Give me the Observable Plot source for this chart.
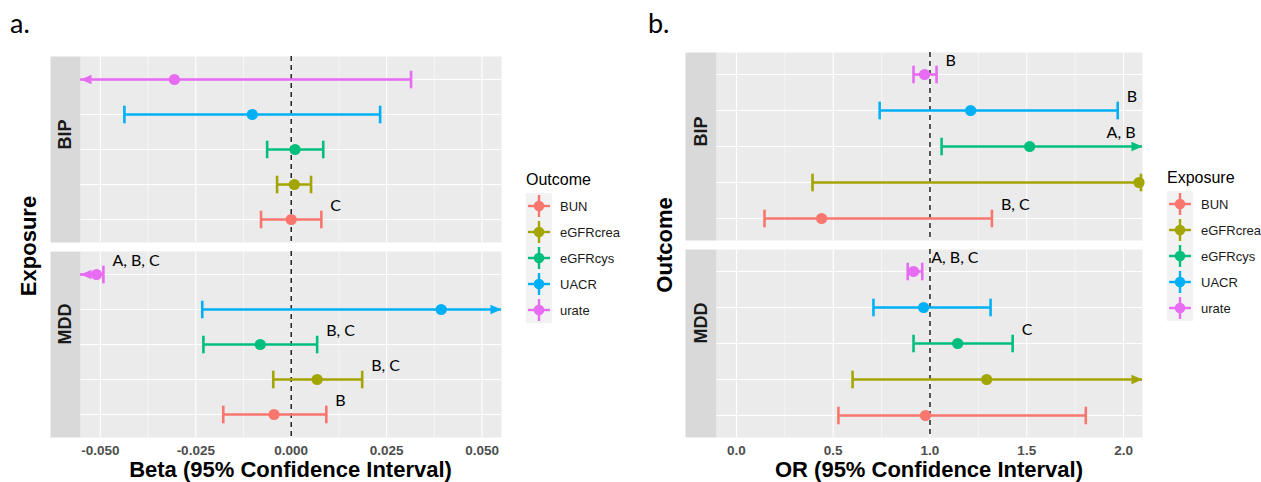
<!DOCTYPE html>
<html>
<head>
<meta charset="utf-8">
<script src="https://cdn.jsdelivr.net/npm/d3@7"></script>
<script src="https://cdn.jsdelivr.net/npm/@observablehq/plot@0.6"></script>
<style>
  body { margin: 0; background: #fff; }
  #root { position: relative; width: 1261px; height: 482px; overflow: hidden; background: #fff; }
  .pnl { position: absolute; top: 0; }
  #overlay { position: absolute; left: 0; top: 0; }
</style>
</head>
<body>
<div id="root"></div>
<script>
// ---------- shared categories ----------
const rowOrder = ["urate", "UACR", "eGFRcys", "eGFRcrea", "BUN"]; // top -> bottom in each facet
const legendOrder = ["BUN", "eGFRcrea", "eGFRcys", "UACR", "urate"];
const palette = ["#F8766D", "#A3A500", "#00BF7D", "#00B0F6", "#E76BF3"];
const facets = ["BIP", "MDD"];

// ---------- panel a: Beta by outcome ----------
const aFacet   = ["BIP", "BIP", "BIP", "BIP", "BIP", "MDD", "MDD", "MDD", "MDD", "MDD"];
const aOutcome = ["urate", "UACR", "eGFRcys", "eGFRcrea", "BUN", "urate", "UACR", "eGFRcys", "eGFRcrea", "BUN"];
const aBeta    = [-0.0306, -0.0102, 0.0010, 0.0008, 0.0000, -0.0510, 0.0393, -0.0081, 0.0068, -0.0045];
const aLower   = [-0.0926, -0.0437, -0.0063, -0.0037, -0.0079, -0.0580, -0.0233, -0.0230, -0.0047, -0.0178];
const aUpper   = [0.0314, 0.0233, 0.0084, 0.0052, 0.0079, -0.0492, 0.1019, 0.0068, 0.0186, 0.0092];
const aNote    = ["", "", "", "", "C", "A, B, C", "", "B, C", "B, C", "B"];
const aTicks   = [-0.05, -0.025, 0, 0.025, 0.05];
const aMinor   = [-0.0375, -0.0125, 0.0125, 0.0375];
const aDomain  = [-0.0552, 0.0551];

// ---------- panel b: OR by exposure ----------
const bFacet    = ["BIP", "BIP", "BIP", "BIP", "BIP", "MDD", "MDD", "MDD", "MDD", "MDD"];
const bExposure = ["urate", "UACR", "eGFRcys", "eGFRcrea", "BUN", "urate", "UACR", "eGFRcys", "eGFRcrea", "BUN"];
const bOR       = [0.972, 1.21, 1.515, 2.08, 0.44, 0.915, 0.967, 1.143, 1.293, 0.977];
const bLower    = [0.915, 0.74, 1.06, 0.393, 0.145, 0.885, 0.708, 0.915, 0.60, 0.527];
const bUpper    = [1.034, 1.97, 2.17, 2.09, 1.32, 0.96, 1.313, 1.427, 2.79, 1.805];
const bNote     = ["B", "B", "A, B", "", "B, C", "A, B, C", "", "C", "", ""];
const bTicks    = [0, 0.5, 1, 1.5, 2];
const bMinor    = [0.25, 0.75, 1.25, 1.75];
const bDomain   = [-0.103, 2.098];

// glyphs used for arrow heads and error-bar caps
const arrowLeft  = {draw(c) { c.moveTo(0, 0); c.lineTo(11, -4.8); c.lineTo(11, 4.8); c.closePath(); }};
const arrowRight = {draw(c) { c.moveTo(0, 0); c.lineTo(-11, -4.8); c.lineTo(-11, 4.8); c.closePath(); }};
const capGlyph   = {draw(c) { c.moveTo(0, -8.8); c.lineTo(0, 8.8); }};

function forest(cfg) {
  const {facet, cat, est, lo, hi, note, domain, ticks, minor, ref, digits,
         width, mLeft, mRight, mTop, mBottom, strip, pad} = cfg;
  const [d0, d1] = domain;
  const rows = est.map((e, i) => ({facet: facet[i], cat: cat[i], est: e, lo: lo[i], hi: hi[i], note: note[i]}));
  const innerW = width - mLeft - mRight;
  const lw = 2.6;
  const common = {fy: "facet", y: "cat"};
  const noteStyle = {fontFamily: "Lato, 'Open Sans', sans-serif", fontSize: 16, fill: "#000", dy: -14};
  return Plot.plot({
    width, height: 482,
    marginTop: mTop, marginBottom: mBottom, marginLeft: mLeft, marginRight: mRight,
    style: {fontFamily: "'Liberation Sans', Arial, sans-serif", background: "transparent", overflow: "visible"},
    x: {domain},
    y: {type: "point", domain: rowOrder, padding: 0.6, axis: null},
    fy: {domain: facets, paddingInner: pad, paddingOuter: 0, axis: null},
    color: {domain: legendOrder, range: palette},
    marks: [
      Plot.frame({fill: "#ebebeb", stroke: "none"}),
      Plot.frame({fill: "#d9d9d9", stroke: "none", insetLeft: -strip, insetRight: innerW}),
      Plot.ruleX(minor, {stroke: "#fff", strokeWidth: 0.55}),
      Plot.ruleX(ticks, {stroke: "#fff", strokeWidth: 1.1}),
      Plot.ruleY(rowOrder, {stroke: "#fff", strokeWidth: 1.1}),
      Plot.ruleX([ref], {stroke: "#000", strokeWidth: 1.3, strokeDasharray: "5,4"}),
      Plot.ruleY(rows, {...common, x1: d => Math.max(d.lo, d0), x2: d => Math.min(d.hi, d1), stroke: "cat", strokeWidth: lw}),
      Plot.dot(rows.filter(d => d.lo >= d0), {...common, x: "lo", symbol: capGlyph, stroke: "cat", fill: "none", strokeWidth: lw, r: 5}),
      Plot.dot(rows.filter(d => d.hi <= d1), {...common, x: "hi", symbol: capGlyph, stroke: "cat", fill: "none", strokeWidth: lw, r: 5}),
      Plot.dot(rows.filter(d => d.lo < d0), {...common, x: () => d0, symbol: arrowLeft, fill: "cat", r: 5}),
      Plot.dot(rows.filter(d => d.hi > d1), {...common, x: () => d1, symbol: arrowRight, fill: "cat", r: 5}),
      Plot.dot(rows, {...common, x: "est", fill: "cat", r: 5.6}),
      Plot.text(rows.filter(d => d.note && d.hi <= d1), {...common, x: "hi", text: "note", textAnchor: "start", dx: 9, ...noteStyle}),
      Plot.text(rows.filter(d => d.note && d.hi > d1), {...common, x: () => d1, text: "note", textAnchor: "end", dx: -7, ...noteStyle}),
      Plot.text(facets, {fy: d => d, text: d => d, frameAnchor: "left", dx: -strip / 2, rotate: -90,
                         fontWeight: "bold", fontSize: 18, fill: "#1a1a1a"}),
      Plot.axisX(ticks, {tickFormat: d => d.toFixed(digits), tickSize: 0, tickPadding: 8,
                         fontWeight: "bold", fontSize: 13.5, fill: "#4d4d4d", label: null})
    ]
  });
}

const root = document.getElementById("root");

const plotA = forest({facet: aFacet, cat: aOutcome, est: aBeta, lo: aLower, hi: aUpper, note: aNote,
  domain: aDomain, ticks: aTicks, minor: aMinor, ref: 0, digits: 3,
  width: 520, mLeft: 80, mRight: 19, mTop: 55, mBottom: 45, strip: 30, pad: 0.047});
const divA = document.createElement("div");
divA.className = "pnl"; divA.style.left = "0px";
divA.appendChild(plotA);
root.appendChild(divA);

const plotB = forest({facet: bFacet, cat: bExposure, est: bOR, lo: bLower, hi: bUpper, note: bNote,
  domain: bDomain, ticks: bTicks, minor: bMinor, ref: 1, digits: 1,
  width: 560, mLeft: 116, mRight: 18, mTop: 52, mBottom: 45, strip: 31, pad: 0.0457});
const divB = document.createElement("div");
divB.className = "pnl"; divB.style.left = "600px";
divB.appendChild(plotB);
root.appendChild(divB);

// ---------- overlay: panel tags, axis titles, legends ----------
const svg = d3.select(root).append("svg").attr("id", "overlay")
  .attr("width", 1261).attr("height", 482)
  .style("font-family", "'Liberation Sans', Arial, sans-serif");

svg.append("text").attr("x", 10).attr("y", 33).attr("font-family", "Lato, sans-serif").attr("font-size", 27).text("a.");
svg.append("text").attr("x", 648).attr("y", 33).attr("font-family", "Lato, sans-serif").attr("font-size", 27).text("b.");

function title(x, y, txt, rot) {
  const t = svg.append("text").attr("text-anchor", "middle").attr("font-weight", "bold")
    .attr("font-size", 22).attr("fill", "#000").text(txt);
  if (rot) t.attr("transform", `translate(${x},${y}) rotate(-90)`);
  else t.attr("x", x).attr("y", y);
}
title(290.5, 477, "Beta (95% Confidence Interval)");
title(929, 477, "OR (95% Confidence Interval)");
title(36, 246, "Exposure", true);
title(672, 245, "Outcome", true);

function legend(x, top, name) {
  const g = svg.append("g");
  g.append("text").attr("x", x).attr("y", top - 8).attr("font-size", 16).attr("fill", "#000").text(name);
  g.append("rect").attr("x", x).attr("y", top).attr("width", 26).attr("height", 130).attr("fill", "#f2f2f2");
  legendOrder.forEach((k, i) => {
    const cy = top + 13 + i * 26, cx = x + 13, col = palette[i];
    g.append("line").attr("x1", cx - 11).attr("x2", cx + 11).attr("y1", cy).attr("y2", cy).attr("stroke", col).attr("stroke-width", 2.4);
    g.append("line").attr("x1", cx).attr("x2", cx).attr("y1", cy - 11).attr("y2", cy + 11).attr("stroke", col).attr("stroke-width", 2.4);
    g.append("circle").attr("cx", cx).attr("cy", cy).attr("r", 5.3).attr("fill", col);
    g.append("text").attr("x", x + 34).attr("y", cy + 4.7).attr("font-size", 13).attr("fill", "#1a1a1a").text(k);
  });
}
legend(526, 193, "Outcome");
legend(1167, 191, "Exposure");
</script>
</body>
</html>
